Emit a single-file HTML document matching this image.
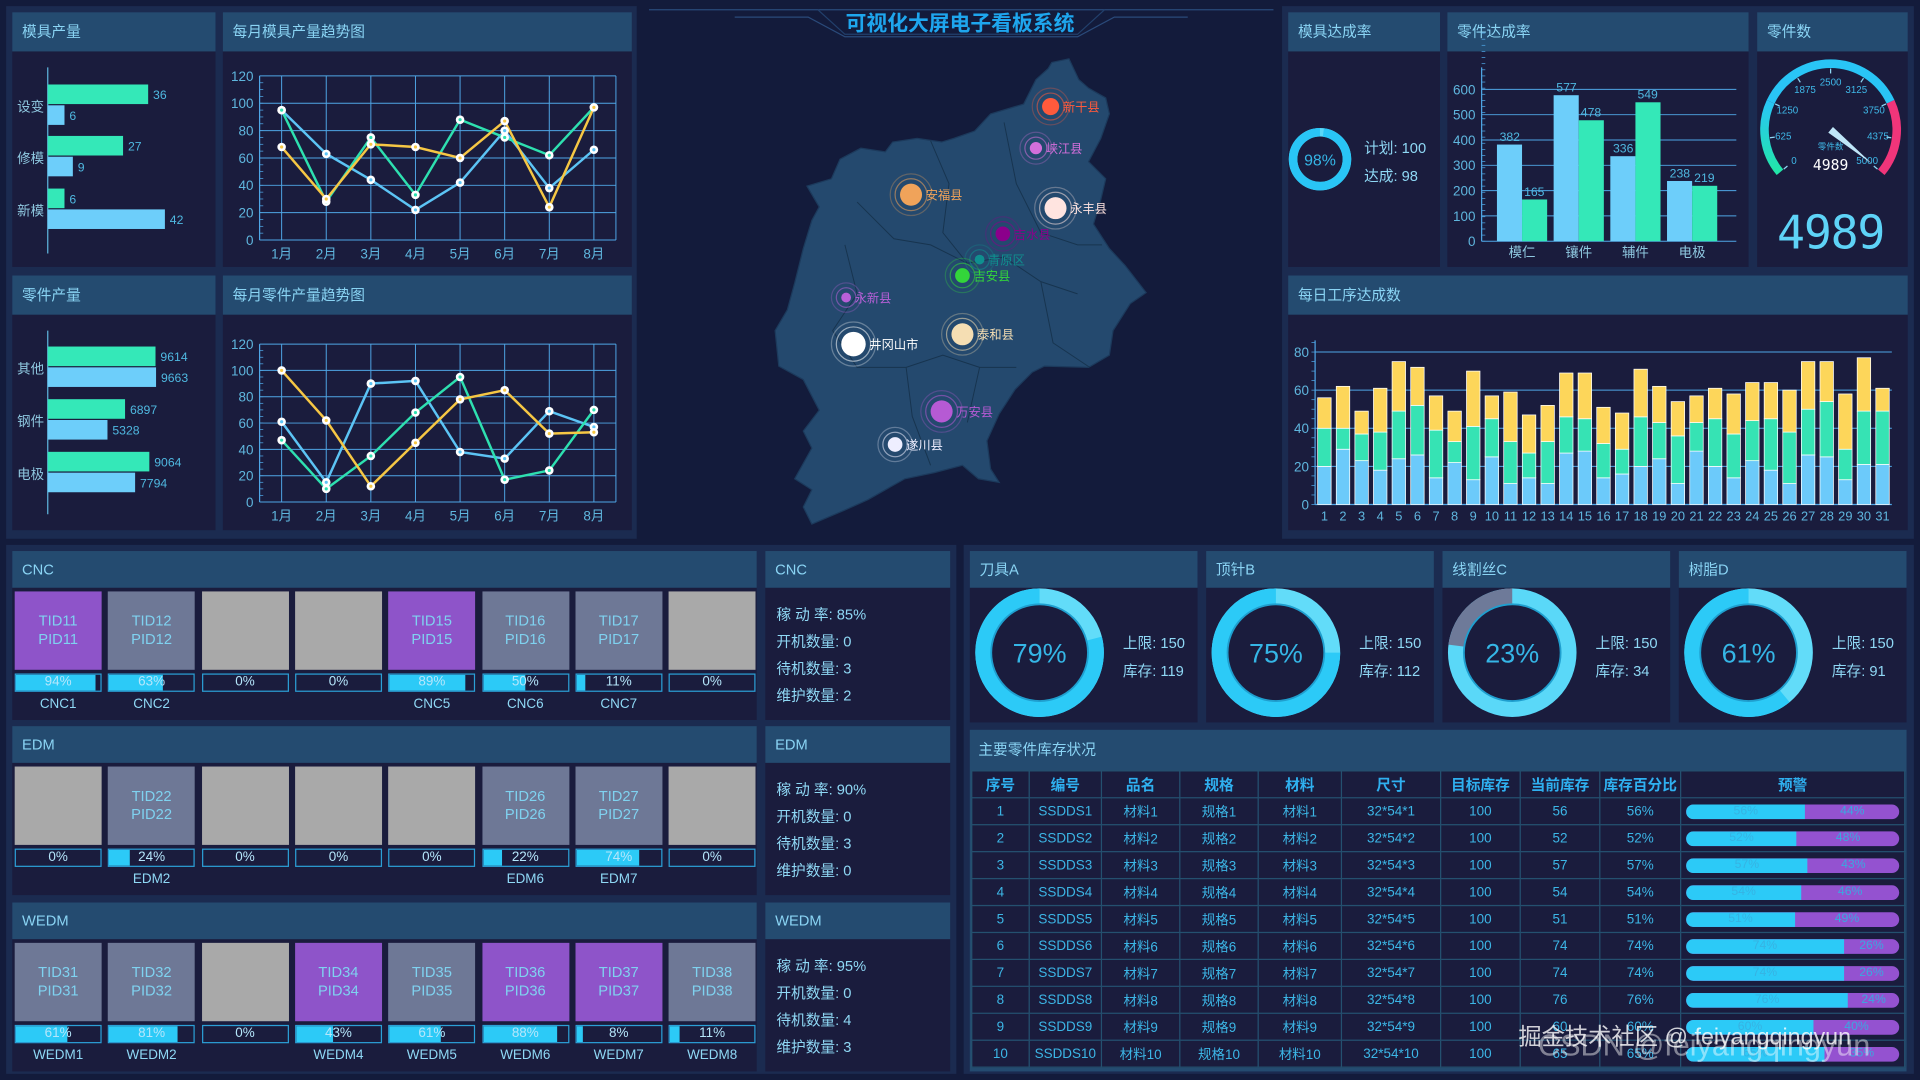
<!DOCTYPE html>
<html><head><meta charset="utf-8">
<style>
html,body{margin:0;padding:0;background:#131b3b;overflow:hidden;}
body{width:1920px;height:1080px;font-family:"Liberation Sans","Noto Sans CJK SC",sans-serif;}
#stage{position:absolute;left:0;top:0;width:1568px;height:882px;transform:scale(1.22449);transform-origin:0 0;background:#131b3b;}
.frame{position:absolute;background:#1b2b50;}
.panel{position:absolute;background:#1a1c3d;}
.ph{position:absolute;left:0;top:0;right:0;background:#244b70;color:#8ad4f4;font-size:12px;padding-left:8px;box-sizing:border-box;}
.abs{position:absolute;}
.info{position:absolute;left:9px;color:#8fd8f5;font-size:12px;}
.tile{position:absolute;width:71px;height:64px;color:#7fd2f0;font-size:12px;text-align:center;line-height:15px;box-sizing:border-box;padding-top:17px;}
.pbar{position:absolute;width:71px;height:15px;border:1px solid #2b9fd6;box-sizing:border-box;overflow:hidden;}
.pfill{position:absolute;left:0;top:0;bottom:0;background:#2ccaf7;}
.ptxt{position:absolute;left:0;right:0;top:0;text-align:center;font-size:11px;line-height:13px;color:#b5e6fb;}
.tlabel{position:absolute;width:71px;text-align:center;font-size:11px;color:#8fd8f5;}
table{border-collapse:collapse;position:absolute;left:1px;top:33px;width:763px;font-size:11px;}
td,th{border:1px solid #24506f;text-align:center;height:21px;padding:0;color:#3cb6e6;font-weight:normal;}
th{color:#2fb0f0;font-weight:bold;font-size:12px;background:#1a1c3d;}
</style></head>
<body>
<div id="stage">
  <div class="frame" style="left:5px;top:5px;width:515px;height:435px"></div>
  <div class="frame" style="left:1047px;top:5px;width:516px;height:435px"></div>
  <div class="frame" style="left:5px;top:445px;width:776px;height:432px"></div>
  <div class="frame" style="left:787px;top:445px;width:776px;height:432px"></div>

  <div class="panel" style="left:10px;top:10px;width:166px;height:208px"><div class="ph" style="height:32px;line-height:32px">模具产量</div></div>
  <div class="panel" style="left:182px;top:10px;width:334px;height:208px"><div class="ph" style="height:32px;line-height:32px">每月模具产量趋势图</div></div>
  <div class="panel" style="left:10px;top:225px;width:166px;height:208px"><div class="ph" style="height:32px;line-height:32px">零件产量</div></div>
  <div class="panel" style="left:182px;top:225px;width:334px;height:208px"><div class="ph" style="height:32px;line-height:32px">每月零件产量趋势图</div></div>

  <div class="panel" style="left:1052px;top:10px;width:124px;height:208px"><div class="ph" style="height:32px;line-height:32px">模具达成率</div>
    <div class="abs" style="left:62px;top:102px;color:#8fd8f5;font-size:12px">计划: 100</div>
    <div class="abs" style="left:62px;top:125px;color:#8fd8f5;font-size:12px">达成: 98</div>
  </div>
  <div class="panel" style="left:1182px;top:10px;width:246px;height:208px"><div class="ph" style="height:32px;line-height:32px">零件达成率</div></div>
  <div class="panel" style="left:1435px;top:10px;width:123px;height:208px"><div class="ph" style="height:32px;line-height:32px">零件数</div></div>
  <div class="panel" style="left:1052px;top:225px;width:506px;height:208px"><div class="ph" style="height:32px;line-height:32px">每日工序达成数</div></div>

  <div class="panel" id="cncP" style="left:10px;top:450px;width:608px;height:138px"><div class="ph" style="height:30px;line-height:30px">CNC</div></div>
  <div class="panel" style="left:625px;top:450px;width:151px;height:138px"><div class="ph" style="height:30px;line-height:30px">CNC</div>
    <div class="info" style="top:43px">稼 动 率: 85%</div>
    <div class="info" style="top:65px">开机数量: 0</div>
    <div class="info" style="top:87px">待机数量: 3</div>
    <div class="info" style="top:109px">维护数量: 2</div>
  </div>
  <div class="panel" id="edmP" style="left:10px;top:593px;width:608px;height:138px"><div class="ph" style="height:30px;line-height:30px">EDM</div></div>
  <div class="panel" style="left:625px;top:593px;width:151px;height:138px"><div class="ph" style="height:30px;line-height:30px">EDM</div>
    <div class="info" style="top:43px">稼 动 率: 90%</div>
    <div class="info" style="top:65px">开机数量: 0</div>
    <div class="info" style="top:87px">待机数量: 3</div>
    <div class="info" style="top:109px">维护数量: 0</div>
  </div>
  <div class="panel" id="wedmP" style="left:10px;top:737px;width:608px;height:138px"><div class="ph" style="height:30px;line-height:30px">WEDM</div></div>
  <div class="panel" style="left:625px;top:737px;width:151px;height:138px"><div class="ph" style="height:30px;line-height:30px">WEDM</div>
    <div class="info" style="top:43px">稼 动 率: 95%</div>
    <div class="info" style="top:65px">开机数量: 0</div>
    <div class="info" style="top:87px">待机数量: 4</div>
    <div class="info" style="top:109px">维护数量: 3</div>
  </div>

  <div class="panel" style="left:792px;top:450px;width:186px;height:140px"><div class="ph" style="height:30px;line-height:30px">刀具A</div>
    <div class="info" style="left:125px;top:66px">上限: 150</div><div class="info" style="left:125px;top:89px">库存: 119</div></div>
  <div class="panel" style="left:985px;top:450px;width:186px;height:140px"><div class="ph" style="height:30px;line-height:30px">顶针B</div>
    <div class="info" style="left:125px;top:66px">上限: 150</div><div class="info" style="left:125px;top:89px">库存: 112</div></div>
  <div class="panel" style="left:1178px;top:450px;width:186px;height:140px"><div class="ph" style="height:30px;line-height:30px">线割丝C</div>
    <div class="info" style="left:125px;top:66px">上限: 150</div><div class="info" style="left:125px;top:89px">库存: 34</div></div>
  <div class="panel" style="left:1371px;top:450px;width:186px;height:140px"><div class="ph" style="height:30px;line-height:30px">树脂D</div>
    <div class="info" style="left:125px;top:66px">上限: 150</div><div class="info" style="left:125px;top:89px">库存: 91</div></div>

  <div class="panel" style="left:792px;top:596px;width:765px;height:279px;background:#244b70">
    <div class="abs" style="left:7px;top:7px;color:#8ad4f4;font-size:12px">主要零件库存状况</div>
    <table id="stockTable">
      <colgroup><col style="width:47px"><col style="width:59px"><col style="width:64px"><col style="width:64px"><col style="width:68px"><col style="width:81px"><col style="width:65px"><col style="width:65px"><col style="width:66px"><col></colgroup>
      <thead><tr><th>序号</th><th>编号</th><th>品名</th><th>规格</th><th>材料</th><th>尺寸</th><th>目标库存</th><th>当前库存</th><th>库存百分比</th><th>预警</th></tr></thead>
      <tbody id="stockBody" style="background:#1a1c3d"></tbody>
    </table>
  </div>

  <svg id="chartLayer" class="abs" style="left:0;top:0;pointer-events:none" width="1568" height="882" viewBox="0 0 1568 882"></svg>

  <div class="abs" style="left:1240px;top:832px;font-size:19px;color:rgba(255,255,255,0.8);white-space:nowrap">掘金技术社区 @ feiyangqingyun</div>
  <div class="abs" style="left:1256px;top:840px;font-size:25px;color:rgba(255,255,255,0.45);white-space:nowrap">CSDN @feiyangqingyun</div>
</div>

<script>
const moldCats = ['设变','修模','新模'];
const moldSeriesA = [36, 27, 6];
const moldSeriesB = [6, 9, 42];
const partCats = ['其他','钢件','电极'];
const partSeriesA = [9614, 6897, 9064];
const partSeriesB = [9663, 5328, 7794];
const months = ['1月','2月','3月','4月','5月','6月','7月','8月'];
const lineTicks = [0,20,40,60,80,100,120];
const moldBlue = [95, 63, 44, 22, 42, 80, 38, 66];
const moldGreen = [95, 28, 75, 33, 88, 75, 62, 97];
const moldYellow = [68, 30, 70, 68, 60, 87, 24, 97];
const partBlue = [61, 15, 90, 92, 38, 33, 69, 57];
const partGreen = [47, 10, 35, 68, 95, 17, 24, 70];
const partYellow = [100, 62, 12, 45, 78, 85, 52, 53];
const rateCats = ['模仁','镶件','辅件','电极'];
const rateBlue = [382, 577, 336, 238];
const rateGreen = [165, 478, 549, 219];
const rateTicks = [0,100,200,300,400,500,600];
const moldRate = 98;
const gaugeValue = 4989;
const gaugeTicks = [0,625,1250,1875,2500,3125,3750,4375,5000];
const days = [1,2,3,4,5,6,7,8,9,10,11,12,13,14,15,16,17,18,19,20,21,22,23,24,25,26,27,28,29,30,31];
const dailyBlue = [20,29,23,18,24,26,14,22,13,25,11,14,11,27,28,14,16,20,24,11,28,20,14,23,18,11,26,25,13,21,21];
const dailyGreen = [20,11,14,20,25,26,25,11,28,20,22,13,22,19,17,18,13,26,19,25,15,25,23,21,27,27,24,29,16,28,28];
const dailyYellow = [16,22,12,23,26,20,18,16,29,12,26,20,19,23,24,19,19,25,19,18,14,16,21,20,19,22,25,21,29,28,12];
const dailyTicks = [0,20,40,60,80];
const stockPercents = [79, 75, 23, 61];
const stockCurrent = [56,52,57,54,51,74,74,76,60,65];
const stockTarget = [100,100,100,100,100,100,100,100,100,100];

const cncTiles = [['TID11','PID11','p',94,'CNC1'],['TID12','PID12','s',63,'CNC2'],['','','g',0,''],['','','g',0,''],['TID15','PID15','p',89,'CNC5'],['TID16','PID16','s',50,'CNC6'],['TID17','PID17','s',11,'CNC7'],['','','g',0,'']];
const edmTiles = [['','','g',0,''],['TID22','PID22','s',24,'EDM2'],['','','g',0,''],['','','g',0,''],['','','g',0,''],['TID26','PID26','s',22,'EDM6'],['TID27','PID27','s',74,'EDM7'],['','','g',0,'']];
const wedmTiles = [['TID31','PID31','s',61,'WEDM1'],['TID32','PID32','s',81,'WEDM2'],['','','g',0,''],['TID34','PID34','p',43,'WEDM4'],['TID35','PID35','s',61,'WEDM5'],['TID36','PID36','p',88,'WEDM6'],['TID37','PID37','p',8,'WEDM7'],['TID38','PID38','s',11,'WEDM8']];

const mapCities = [['新干县',858,87,7,'#ff5a3c'],['峡江县',846,121,5,'#d36fdb'],['安福县',744,159,9,'#f0a35a'],['永丰县',862,170,9,'#ffe4e0'],['吉水县',819,191,6,'#8b008b'],['青原区',800,212,4,'#0f8f8f'],['吉安县',786,225,6,'#33d63a'],['永新县',691,243,4,'#b760d8'],['井冈山市',697,281,10,'#ffffff'],['泰和县',786,273,9,'#f5deb3'],['万安县',769,336,9,'#b65ad4'],['遂川县',731,363,6,'#eeeeff']];

const NS = 'http://www.w3.org/2000/svg';
const svg = document.getElementById('chartLayer');
function mk(parent, tag, attrs, txt) {
  const e = document.createElementNS(NS, tag);
  for (const k in attrs) e.setAttribute(k, attrs[k]);
  if (txt !== undefined) e.textContent = txt;
  parent.appendChild(e);
  return e;
}
const FONT = '"Liberation Sans","Noto Sans CJK SC",sans-serif';
const AX = '#4fa6e6';
const TXT = '#5fb6de';

(function(){
  const g = mk(svg,'g',{});
  
  
  mk(g,'path',{d:'M530 8 L1040 8 M600 14 L660 14 L690 30 L880 30 L910 14 L970 14',stroke:'#2a4a7a','stroke-width':1,fill:'none'});
  mk(g,'path',{d:'M668 8 L690 28 L880 28 L902 8',stroke:'#22406c','stroke-width':1,fill:'none'});
  const t = mk(g,'text',{x:784,y:25,'text-anchor':'middle','font-size':17,'font-weight':'bold',fill:'#1ea6ee','font-family':FONT},'可视化大屏电子看板系统');
  
  
})();

(function(){
  const g = mk(svg,'g',{});
  
  
  const pts = '859,51 873,48 881,65 889,72 903,80 906,93 899,113 889,132 903,146 899,163 893,183 906,203 919,217 936,239 923,248 909,270 906,290 889,300 853,299 843,304 829,318 816,338 806,360 809,383 816,394 799,391 786,380 763,386 739,391 723,400 709,408 689,417 663,428 656,414 663,400 649,391 663,366 656,352 669,335 656,310 636,299 633,270 643,253 649,231 656,203 663,180 669,169 659,152 679,146 686,130 703,121 723,124 729,116 749,113 769,116 779,113 796,107 809,93 836,85 846,65 856,56';
  const poly = mk(g,'polygon',{points:pts,fill:'#24496e',stroke:'#1c3a5c','stroke-width':1});
  
  
  mk(g,'path',{d:'M760 115 L775 150 L770 190 L790 215 M700 165 L730 195 L760 200 L790 215 L820 210 L850 230 L880 240 M690 200 L700 240 L680 270 L700 300 L740 300 L770 290 L800 300 L830 300 M740 300 L745 340 L760 380 M800 300 L790 345 M850 230 L860 280 L890 300 M820 100 L830 150 L850 190 L880 200 L900 200',stroke:'#17344f','stroke-width':0.8,fill:'none'});
  mapCities.forEach(c=>{
    const cg = mk(g,'g',{});
    
    
    mk(cg,'circle',{cx:c[1],cy:c[2],r:c[3]+8,fill:'none',stroke:c[4],'stroke-opacity':0.3,'stroke-width':1});
    mk(cg,'circle',{cx:c[1],cy:c[2],r:c[3]+4,fill:'none',stroke:c[4],'stroke-opacity':0.55,'stroke-width':1});
    mk(cg,'circle',{cx:c[1],cy:c[2],r:c[3],fill:c[4]});
    mk(cg,'text',{x:c[1]+c[3]+3,y:c[2]+4,'font-size':10,fill:c[4],'font-family':FONT},c[0]);
  });
})();

function hbar(cats, a, b, x0, yTop, yBot, catY, scale, name) {
  const g = mk(svg,'g',{});
  
  
  mk(g,'line',{x1:x0,y1:yTop,x2:x0,y2:yBot,stroke:'#5fb6de','stroke-width':1});
  cats.forEach((c,i)=>{
    const cy = catY[i];
    const t = mk(g,'text',{x:x0-3,y:cy+4,'text-anchor':'end','font-size':11,fill:'#8fc8e0','font-family':FONT},c);
    
    
    const wa = a[i]*scale, wb = b[i]*scale;
    const ra = mk(g,'rect',{x:x0,y:cy-18,width:wa,height:16,fill:'#34e8b8'});
    
    
    const rb = mk(g,'rect',{x:x0,y:cy-1,width:wb,height:16,fill:'#6dcefa'});
    
    
    mk(g,'text',{x:x0+wa+4,y:cy-6,'font-size':10,fill:'#4fb8e0','font-family':FONT},a[i]);
    mk(g,'text',{x:x0+wb+4,y:cy+11,'font-size':10,fill:'#4fb8e0','font-family':FONT},b[i]);
  });
}
hbar(moldCats, moldSeriesA, moldSeriesB, 39, 55, 207, [87,129,172], 82/36, 'mold-output-chart');
hbar(partCats, partSeriesA, partSeriesB, 39, 270, 420, [301,344,387], 88/9614, 'part-output-chart');

function lineChart(series, colors, yZero, yTop, name) {
  const g = mk(svg,'g',{});
  
  
  const xL = 212, xR = 503;
  const X = i => 230 + i*36.43;
  const Y = v => yZero - (v/120)*(yZero-yTop);
  lineTicks.forEach(t=>{
    mk(g,'line',{x1:xL,y1:Y(t),x2:xR,y2:Y(t),stroke:AX,'stroke-width':0.8});
    const tl = mk(g,'text',{x:xL-5,y:Y(t)+4,'text-anchor':'end','font-size':11,fill:TXT,'font-family':FONT},t);
    
    
  });
  for (let k=0;k<24;k++){ const yy = yZero - k*(yZero-yTop)/24; mk(g,'line',{x1:xL,y1:yy,x2:xL+3,y2:yy,stroke:AX,'stroke-width':0.6}); }
  mk(g,'line',{x1:xL,y1:yTop,x2:xL,y2:yZero,stroke:AX,'stroke-width':1});
  mk(g,'line',{x1:xR,y1:yTop,x2:xR,y2:yZero,stroke:AX,'stroke-width':0.8});
  months.forEach((m,i)=>{
    mk(g,'line',{x1:X(i),y1:yTop,x2:X(i),y2:yZero,stroke:AX,'stroke-width':0.8});
    const ml = mk(g,'text',{x:X(i),y:yZero+15,'text-anchor':'middle','font-size':11,fill:TXT,'font-family':FONT},m);
    
    
  });
  series.forEach((s,si)=>{
    const pl = mk(g,'polyline',{points:s.map((v,i)=>X(i)+','+Y(v)).join(' '),fill:'none',stroke:colors[si],'stroke-width':2});
    
    
  });
  series.forEach((s,si)=>{
    s.forEach((v,i)=>{
      const p = mk(g,'circle',{cx:X(i),cy:Y(v),r:3.5,fill:'#ffffff'});
      
      
      mk(g,'circle',{cx:X(i),cy:Y(v),r:1.3,fill:colors[si]});
    });
  });
}
const lineColors = ['#5cc4f5','#2ee0b0','#f6c744'];
lineChart([moldBlue, moldGreen, moldYellow], lineColors, 196, 62, 'mold-trend-chart');
lineChart([partBlue, partGreen, partYellow], lineColors, 410, 281, 'part-trend-chart');

function arcPath(cx, cy, r, a0, a1) {
  const p = a => [cx + r*Math.sin(a*Math.PI/180), cy - r*Math.cos(a*Math.PI/180)];
  const s = p(a0), e = p(a1);
  const large = (a1-a0) > 180 ? 1 : 0;
  return `M${s[0]} ${s[1]} A${r} ${r} 0 ${large} 1 ${e[0]} ${e[1]}`;
}
(function(){
  const g = mk(svg,'g',{});
  
  
  mk(g,'circle',{cx:1078,cy:130,r:22,fill:'none',stroke:'#5ad8f8','stroke-width':7});
  const a = mk(g,'path',{d:arcPath(1078,130,22,360*(1-moldRate/100),359.9),fill:'none',stroke:'#29c5f6','stroke-width':7});
  
  
  mk(g,'text',{x:1078,y:135,'text-anchor':'middle','font-size':13,fill:'#35b6e6','font-family':FONT},moldRate+'%');
})();

(function(){
  const g = mk(svg,'g',{});
  
  
  const x0 = 1210, xR = 1418, yZ = 197, y600 = 73;
  const Y = v => yZ - v/600*(yZ-y600);
  rateTicks.forEach(t=>{
    mk(g,'line',{x1:x0,y1:Y(t),x2:xR,y2:Y(t),stroke:AX,'stroke-width':0.8});
    const tl = mk(g,'text',{x:x0-5,y:Y(t)+4,'text-anchor':'end','font-size':11,fill:TXT,'font-family':FONT},t);
    
    
  });
  for (let k=0;k<=34;k++){ const yy = yZ - k*5; mk(g,'line',{x1:x0,y1:yy,x2:x0+3,y2:yy,stroke:AX,'stroke-width':0.6}); }
  mk(g,'line',{x1:x0,y1:55,x2:x0,y2:yZ,stroke:AX,'stroke-width':1});
  rateCats.forEach((c,i)=>{
    const cx = 1243 + i*46.3;
    const b = mk(g,'rect',{x:cx-20.5,y:Y(rateBlue[i]),width:20.5,height:yZ-Y(rateBlue[i]),fill:'#6dcefa'});
    
    
    const gr = mk(g,'rect',{x:cx,y:Y(rateGreen[i]),width:20.5,height:yZ-Y(rateGreen[i]),fill:'#34e8b8'});
    
    
    mk(g,'text',{x:cx-10,y:Y(rateBlue[i])-3,'text-anchor':'middle','font-size':10,fill:'#4fb8e0','font-family':FONT},rateBlue[i]);
    mk(g,'text',{x:cx+10,y:Y(rateGreen[i])-3,'text-anchor':'middle','font-size':10,fill:'#4fb8e0','font-family':FONT},rateGreen[i]);
    const cl = mk(g,'text',{x:cx,y:yZ+13,'text-anchor':'middle','font-size':11,fill:'#8fc8e0','font-family':FONT},c);
    
    
  });
})();

(function(){
  const g = mk(svg,'g',{});
  
  
  const cx = 1495, cy = 106, r = 54, sA = 220, span = 260, max = 5000;
  const ang = f => (sA - span*f)*Math.PI/180;
  const pt = (f, rr) => [cx + rr*Math.cos(ang(f)), cy - rr*Math.sin(ang(f))];
  const arc = (f0,f1,col)=>{ const s = pt(f0,r), e = pt(f1,r); const large = span*(f1-f0)>180?1:0; return mk(g,'path',{d:`M${s[0]} ${s[1]} A${r} ${r} 0 ${large} 1 ${e[0]} ${e[1]}`,fill:'none',stroke:col,'stroke-width':7}); };
  const defs = mk(g,'defs',{});
  const lg = mk(defs,'linearGradient',{id:'gg',x1:0,y1:1,x2:0,y2:0});
  mk(lg,'stop',{offset:0,'stop-color':'#22e6a8'});
  mk(lg,'stop',{offset:1,'stop-color':'#29c5f6'});
  arc(0,0.25,'url(#gg)');
  arc(0.25,0.75,'#29c5f6');
  arc(0.75,1,'#f0357a');
  gaugeTicks.forEach(t=>{
    const f = t/max, p = pt(f, r-15);
    const tl = mk(g,'text',{x:p[0],y:p[1]+3,'text-anchor':'middle','font-size':8,fill:'#3fb8e8','font-family':FONT},t);
    
    
    const a1 = pt(f,r-4), a2 = pt(f,r-8);
    mk(g,'line',{x1:a1[0],y1:a1[1],x2:a2[0],y2:a2[1],stroke:'#8fd8f5','stroke-width':1});
  });
  const f = gaugeValue/max, tip = pt(f, r-10);
  const a = ang(f), nx = Math.sin(a)*3, ny = Math.cos(a)*3;
  const needle = mk(g,'polygon',{points:`${cx+nx},${cy+ny} ${tip[0]},${tip[1]} ${cx-nx},${cy-ny}`,fill:'#bfe6f8'});
  
  
  mk(g,'text',{x:cx,y:cy+16,'text-anchor':'middle','font-size':7,fill:'#3fb8e8','font-family':FONT},'零件数');
  mk(g,'text',{x:cx,y:cy+33,'text-anchor':'middle','font-size':12,fill:'#ffffff','font-family':'"DejaVu Sans Mono",monospace'},gaugeValue);
  const big = mk(g,'text',{x:cx,y:203,'text-anchor':'middle','font-size':38,fill:'#5ed3f7','font-family':'"DejaVu Sans Mono",monospace','letter-spacing':'-1'},gaugeValue);
  
  
})();

(function(){
  const g = mk(svg,'g',{});
  
  
  const x0 = 1074, xR = 1545, yZ = 412, per = (412-287.5)/80;
  const Y = v => yZ - v*per;
  const step = (xR-x0)/days.length, bw = 11;
  dailyTicks.forEach(t=>{
    if (t>0) mk(g,'line',{x1:x0,y1:Y(t),x2:xR,y2:Y(t),stroke:AX,'stroke-width':0.8});
    const tl = mk(g,'text',{x:x0-5,y:Y(t)+4,'text-anchor':'end','font-size':11,fill:TXT,'font-family':FONT},t);
    
    
  });
  for (let k=0;k<=17;k++){ const yy = yZ - k*5*per; mk(g,'line',{x1:x0-3,y1:yy,x2:x0,y2:yy,stroke:AX,'stroke-width':0.6}); }
  mk(g,'line',{x1:x0,y1:278,x2:x0,y2:yZ,stroke:AX,'stroke-width':1});
  mk(g,'line',{x1:x0,y1:yZ,x2:xR,y2:yZ,stroke:AX,'stroke-width':1});
  days.forEach((d,i)=>{
    const cx = x0 + (i+0.5)*step, x = cx - bw/2;
    const b = dailyBlue[i], gr = dailyGreen[i], yl = dailyYellow[i];
    const rb = mk(g,'rect',{x:x,y:Y(b),width:bw,height:b*per,fill:'#6ccafa',stroke:'#ffffff','stroke-width':0.6});
    
    
    const rg = mk(g,'rect',{x:x,y:Y(b+gr),width:bw,height:gr*per,fill:'#36e3b4',stroke:'#ffffff','stroke-width':0.6});
    
    
    const ry = mk(g,'rect',{x:x,y:Y(b+gr+yl),width:bw,height:yl*per,fill:'#fdd65a',stroke:'#ffffff','stroke-width':0.6});
    
    
    const dl = mk(g,'text',{x:cx,y:yZ+13,'text-anchor':'middle','font-size':10.5,fill:TXT,'font-family':FONT},d);
    
    
  });
})();

(function(){
  const centers = [[849,533],[1042,533],[1235,533],[1428,533]];
  stockPercents.forEach((p,i)=>{
    const g = mk(svg,'g',{});
    
    
    const [cx,cy] = centers[i];
    const valCol = p < 30 ? '#6e7a99' : '#2ccaf7';
    const restCol = p < 30 ? '#5ad8f8' : '#62dcf9';
    mk(g,'circle',{cx:cx,cy:cy,r:46,fill:'none',stroke:restCol,'stroke-width':13});
    const a = mk(g,'path',{d:arcPath(cx,cy,46,360*(1-p/100),359.99),fill:'none',stroke:valCol,'stroke-width':13});
    
    
    mk(g,'circle',{cx:cx,cy:cy,r:39.5,fill:'none',stroke:'#1f9fcf','stroke-width':1.5});
    mk(g,'text',{x:cx,y:cy+8,'text-anchor':'middle','font-size':22,fill:'#35b6e6','font-family':FONT},p+'%');
  });
})();

function tiles(panelId, list) {
  const panel = document.getElementById(panelId);
  const colors = {p:'#8e54c9', s:'#6e7896', g:'#a9a9a9'};
  list.forEach((t,i)=>{
    const x = 2 + i*76.3;
    const d = document.createElement('div');
    d.className = 'tile';
    d.style.left = x+'px'; d.style.top = '33px'; d.style.background = colors[t[2]];
    d.innerHTML = t[0] ? t[0]+'<br>'+t[1] : '';
    
    
    panel.appendChild(d);
    const b = document.createElement('div');
    b.className = 'pbar';
    b.style.left = x+'px'; b.style.top = '100px';
    b.innerHTML = '<div class="pfill" style="width:'+t[3]+'%"></div><div class="ptxt">'+t[3]+'%</div>';
    
    
    panel.appendChild(b);
    const l = document.createElement('div');
    l.className = 'tlabel';
    l.style.left = x+'px'; l.style.top = '119px';
    l.textContent = t[4];
    
    
    panel.appendChild(l);
  });
}
tiles('cncP', cncTiles);
tiles('edmP', edmTiles);
tiles('wedmP', wedmTiles);

(function(){
  const body = document.getElementById('stockBody');
  stockCurrent.forEach((c,i)=>{
    const n = i+1, pct = Math.round(c/stockTarget[i]*100);
    const tr = document.createElement('tr');
    
    
    tr.innerHTML = '<td>'+n+'</td><td>SSDDS'+n+'</td><td>材料'+n+'</td><td>规格'+n+'</td><td>材料'+n+'</td><td>32*54*'+n+'</td><td>'+stockTarget[i]+'</td><td>'+c+'</td><td>'+pct+'%</td>'+
      '<td><div style="position:relative;margin:0 4px;height:12px;border-radius:6px;overflow:hidden;background:#9452d0;font-size:10px;line-height:12px">'+
      '<div style="position:absolute;left:0;top:0;bottom:0;width:'+pct+'%;background:#2ccaf7;color:#36b3e3;text-align:center">'+pct+'%</div>'+
      '<div style="position:absolute;right:0;top:0;bottom:0;width:'+(100-pct)+'%;color:#3aa8e0;text-align:center">'+(100-pct)+'%</div></div></td>';
    body.appendChild(tr);
  });
})();
</script>
</body></html>
